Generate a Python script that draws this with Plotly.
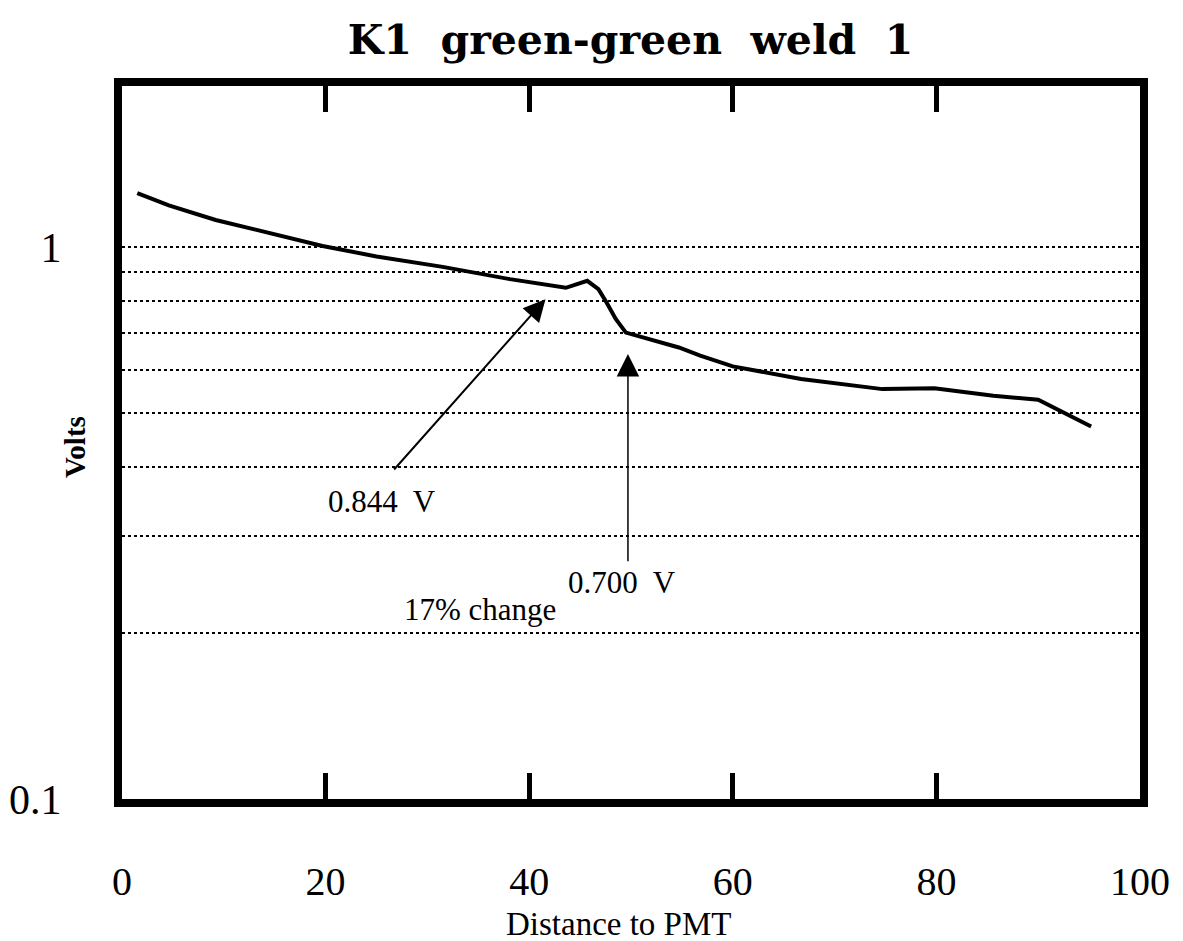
import math
import plotly.graph_objects as go

# Measured signal along the fibre (distance to PMT vs. volts)
distance = [1.5, 4.6, 9.2, 14.2, 19.7, 25.0, 31.5, 38.1, 43.6, 45.7, 46.8,
            47.6, 48.5, 49.5, 51.2, 54.7, 56.8, 60.0, 66.7, 74.7, 79.8,
            85.6, 90.0, 92.2, 95.2]
volts = [1.253, 1.19, 1.12, 1.063, 1.005, 0.962, 0.921, 0.875, 0.844, 0.869,
         0.839, 0.794, 0.741, 0.700, 0.686, 0.658, 0.636, 0.608, 0.577,
         0.553, 0.555, 0.538, 0.529, 0.505, 0.473]

x_ticks = [0, 20, 40, 60, 80, 100]
x_ticktext = ["0", "20", "40", "60", "80", "100"]
y_ticks = [0.1, 1]
y_ticktext = ["0.1", "1"]
y_grid = [0.2, 0.3, 0.4, 0.5, 0.6, 0.7, 0.8, 0.9]

serif = "Liberation Serif"

fig = go.Figure()
fig.add_trace(go.Scatter(
    x=distance, y=volts, mode="lines",
    line=dict(color="black", width=4),
    showlegend=False, hoverinfo="skip",
))

# Arrows pointing at the levels before and after the weld
fig.add_annotation(
    x=41.6, y=math.log10(0.805), xref="x", yref="y",
    ax=26.6, ay=math.log10(0.393), axref="x", ayref="y",
    showarrow=True, arrowhead=2, arrowsize=2.2, arrowwidth=2,
    arrowcolor="black", text="",
)
fig.add_annotation(
    x=49.7, y=math.log10(0.64), xref="x", yref="y",
    ax=49.7, ay=math.log10(0.268), axref="x", ayref="y",
    showarrow=True, arrowhead=2, arrowsize=3, arrowwidth=1.5,
    arrowcolor="black", text="",
)

labels = [("0.844  V", 25.5, -0.46), ("0.700  V", 49.1, -0.607),
          ("17% change", 35.2, -0.656)]
for txt, lx, ly in labels:
    fig.add_annotation(
        x=lx, y=ly, xref="x", yref="y", text=txt, showarrow=False,
        font=dict(family=serif, size=31, color="black"),
        xanchor="center", yanchor="middle",
    )

# Axis titles
fig.add_annotation(
    x=0.488, y=-0.1755, xref="paper", yref="paper",
    text="Distance to PMT", showarrow=False,
    font=dict(family=serif, size=33, color="black"),
    xanchor="center", yanchor="middle",
)
fig.add_annotation(
    x=-0.046, y=0.494, xref="paper", yref="paper",
    text="<b>Volts</b>", showarrow=False, textangle=-90,
    font=dict(family=serif, size=29, color="black"),
    xanchor="center", yanchor="middle",
)

fig.update_layout(
    width=1183, height=941,
    margin=dict(l=122, r=43, t=86, b=142, autoexpand=False),
    paper_bgcolor="white", plot_bgcolor="white",
    title=dict(
        text="<b>K1  green-green  weld  1</b>",
        x=0.533, xref="container", y=1 - 40 / 941, yref="container",
        xanchor="center", yanchor="middle",
        font=dict(family="DejaVu Serif", size=41, color="black"),
    ),
    xaxis=dict(
        range=[0, 100], tickvals=x_ticks, ticktext=x_ticktext,
        ticks="inside", ticklen=26, tickwidth=5, tickcolor="black",
        ticklabelstandoff=40, automargin=False,
        showline=True, linewidth=8, linecolor="black", mirror="ticks",
        showgrid=False, zeroline=False,
        tickfont=dict(family=serif, size=40, color="black"),
    ),
    yaxis=dict(
        type="log", range=[-1, 0.292],
        tickvals=y_ticks, ticktext=y_ticktext, ticks="",
        ticklabelstandoff=44, automargin=False,
        showline=True, linewidth=8, linecolor="black", mirror=True,
        showgrid=True, gridcolor="black", gridwidth=2, griddash="dot",
        minor=dict(tickvals=y_grid, showgrid=True, gridcolor="black",
                   gridwidth=2, griddash="dot", ticks=""),
        zeroline=False,
        tickfont=dict(family=serif, size=42, color="black"),
    ),
)

fig.write_html("out.html")
